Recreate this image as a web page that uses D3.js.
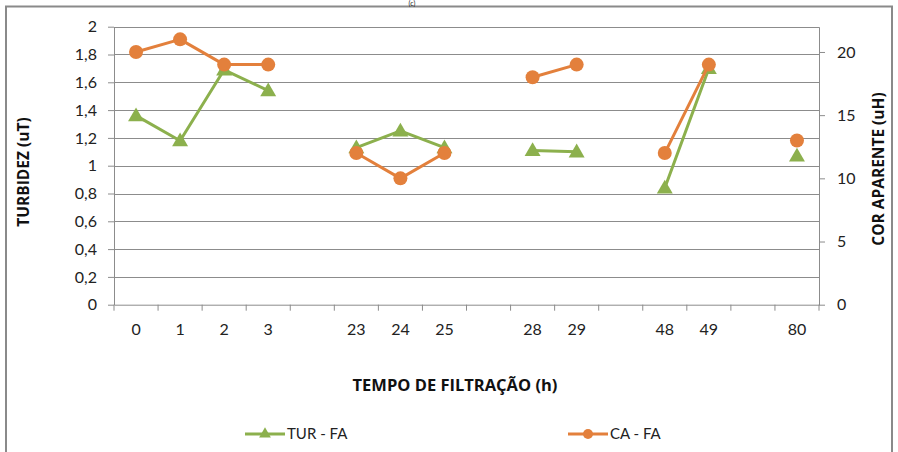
<!DOCTYPE html>
<html><head><meta charset="utf-8">
<script src="https://cdn.jsdelivr.net/npm/d3@7"></script>
<style>
body{margin:0;background:#fff;}
svg{display:block;font-family:Lato,"Open Sans",sans-serif;}
</style></head>
<body><svg id="c" width="898" height="452"></svg>
<script>
const categories = ["0","1","2","3","","23","24","25","","28","29","","48","49","","80"];
const turValues = [1.36,1.18,1.69,1.54,null,1.13,1.25,1.13,null,1.11,1.10,null,0.84,1.70,null,1.07];
const caValues  = [20,21,19,19,null,12,10,12,null,18,19,null,12,19,null,13];
const leftTicks = [0,0.2,0.4,0.6,0.8,1,1.2,1.4,1.6,1.8,2];
const rightTicks = [0,5,10,15,20];
const seriesNames = ["TUR - FA","CA - FA"];
const colors = {tur:"#8CB04D", ca:"#E3803C"};

const svg = d3.select("#c");
const L=114, R=819, T=26.7, B=304.7;

// frame
svg.append("rect").attr("x",6).attr("y",6.5).attr("width",886).attr("height",460)
  .attr("fill","none").attr("stroke","#8a8a8a").attr("stroke-width",2);
svg.append("text").attr("x",412).attr("y",5.5).attr("text-anchor","middle")
  .attr("font-size",7).attr("fill","#222").text("(c)");

const x = d3.scaleBand().domain(d3.range(categories.length)).range([L,R]).padding(0);
const yL = d3.scaleLinear().domain([0,2]).range([B,T]);
const yR = d3.scaleLinear().domain([0,22]).range([B,T]);

// gridlines
svg.append("g").selectAll("line").data(leftTicks.filter(d=>d>0)).join("line")
  .attr("x1",L).attr("x2",R).attr("y1",d=>Math.round(yL(d))+0.5).attr("y2",d=>Math.round(yL(d))+0.5)
  .attr("stroke","#8c8c8c").attr("stroke-width",1);

const fmt = d => String(+d.toFixed(1)).replace(".",",");
// left axis
const gl = svg.append("g").attr("transform",`translate(${L},0)`)
  .call(d3.axisLeft(yL).tickValues(leftTicks).tickFormat(fmt).tickSize(6).tickSizeOuter(0).tickPadding(11));
// right axis
const gr = svg.append("g").attr("transform",`translate(${R},0)`)
  .call(d3.axisRight(yR).tickValues(rightTicks).tickSize(6).tickSizeOuter(0).tickPadding(12));
// bottom axis
const gb = svg.append("g").attr("transform",`translate(0,${B})`)
  .call(d3.axisBottom(x).tickFormat(i=>categories[i]).tickSize(0).tickSizeOuter(0).tickPadding(19));
gb.selectAll(".tick").filter(i=>categories[i]==="").remove();
const bounds = d3.range(categories.length).map(i=>x(i)).concat([x.range()[1]]);
svg.append("g").selectAll("line").data(bounds).join("line")
  .attr("x1",d=>d).attr("x2",d=>d).attr("y1",B).attr("y2",B+6)
  .attr("stroke","#8c8c8c");

[gl,gr,gb].forEach(g=>{
  g.selectAll(".domain").attr("stroke","#8c8c8c");
  g.selectAll(".tick line").attr("stroke","#8c8c8c");
  g.selectAll("text").attr("font-size",16).attr("fill","#222").attr("font-family","Lato");
});

// axis titles
const tf = "'Open Sans'";
svg.append("text").attr("transform","translate(29,172) rotate(-90)").attr("text-anchor","middle")
  .attr("font-family",tf).attr("font-size",15.5).attr("font-weight","bold").attr("fill","#111").text("TURBIDEZ (uT)");
svg.append("text").attr("transform","translate(884,169) rotate(-90)").attr("text-anchor","middle")
  .attr("font-family",tf).attr("font-size",15.5).attr("font-weight","bold").attr("fill","#111").text("COR APARENTE (uH)");
svg.append("text").attr("x",455).attr("y",391).attr("text-anchor","middle")
  .attr("font-family",tf).attr("font-size",16.5).attr("font-weight","bold").attr("fill","#111").text("TEMPO DE FILTRAÇÃO (h)");

const cx = i => x(i)+x.bandwidth()/2;
const tri = d3.symbol().type(d3.symbolTriangle).size(110);

// series lines
const lineTur = d3.line().defined(d=>d!=null).x((d,i)=>cx(i)).y(d=>yL(d));
const lineCa = d3.line().defined(d=>d!=null).x((d,i)=>cx(i)).y(d=>yR(d));
svg.append("path").datum(turValues).attr("d",lineTur).attr("fill","none")
  .attr("stroke",colors.tur).attr("stroke-width",3).attr("stroke-linejoin","round");
svg.append("g").selectAll("path").data(turValues.map((v,i)=>({v,i})).filter(d=>d.v!=null)).join("path")
  .attr("d",tri).attr("transform",d=>`translate(${cx(d.i)},${yL(d.v)+1})`).attr("fill",colors.tur);

svg.append("path").datum(caValues).attr("d",lineCa).attr("fill","none")
  .attr("stroke",colors.ca).attr("stroke-width",3).attr("stroke-linejoin","round");
svg.append("g").selectAll("circle").data(caValues.map((v,i)=>({v,i})).filter(d=>d.v!=null)).join("circle")
  .attr("cx",d=>cx(d.i)).attr("cy",d=>yR(d.v)).attr("r",7).attr("fill",colors.ca);

// legend
const leg = [{n:seriesNames[0],c:colors.tur,x:245,t:"tri"},{n:seriesNames[1],c:colors.ca,x:568,t:"c"}];
leg.forEach(l=>{
  const g = svg.append("g");
  g.append("line").attr("x1",l.x).attr("x2",l.x+40).attr("y1",434).attr("y2",434).attr("stroke",l.c).attr("stroke-width",3);
  if(l.t==="tri") g.append("path").attr("d",d3.symbol().type(d3.symbolTriangle).size(60)).attr("transform",`translate(${l.x+20},434)`).attr("fill",l.c);
  else g.append("circle").attr("cx",l.x+20).attr("cy",434).attr("r",5).attr("fill",l.c);
  g.append("text").attr("x",l.x+42).attr("y",439).attr("font-size",15).attr("fill","#222").text(l.n);
});
</script></body></html>
